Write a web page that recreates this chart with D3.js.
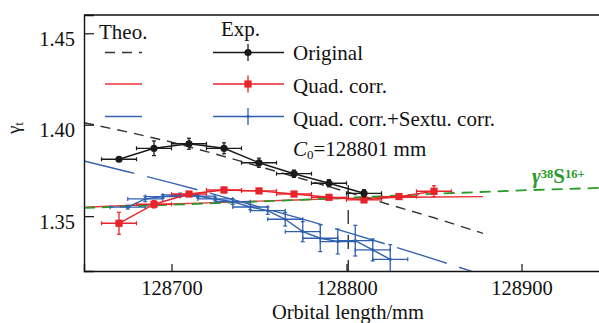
<!DOCTYPE html>
<html>
<head>
<meta charset="utf-8">
<script src="https://cdn.jsdelivr.net/npm/d3@7"></script>
<style>
body { margin: 0; background: #fff; }
svg { display: block; }
</style>
</head>
<body>
<script>
// measured points (orbital length in mm, gamma_t)
var origX = [128670, 128690, 128710, 128730, 128750, 128770, 128790, 128810];
var origY = [1.3811, 1.3871, 1.3896, 1.3871, 1.3792, 1.3732, 1.3680, 1.3625];
var origErr = [0.0012, 0.0040, 0.0030, 0.0030, 0.0025, 0.0020, 0.0020, 0.0020];

var quadX = [128670, 128690, 128710, 128730, 128750, 128770, 128790, 128810, 128830, 128850];
var quadY = [1.3461, 1.3565, 1.3621, 1.3643, 1.3638, 1.3621, 1.3603, 1.3589, 1.3607, 1.3636];
var quadErr = [0.0060, 0.0020, 0.0010, 0.0015, 0.0010, 0.0010, 0.0010, 0.0015, 0.0015, 0.0030];

var sextX = [128675, 128685, 128695, 128705, 128715, 128725, 128735, 128745,
             128755, 128765, 128775, 128785, 128795, 128805, 128815, 128825];
var sextY = [1.3549, 1.3594, 1.3607, 1.3616, 1.3610, 1.3594, 1.3579, 1.3550,
             1.3530, 1.3483, 1.3415, 1.3379, 1.3361, 1.3366, 1.3315, 1.3264];
var sextErr = [0.0010, 0.0015, 0.0010, 0.0010, 0.0010, 0.0010, 0.0015, 0.0015,
               0.0020, 0.0037, 0.0055, 0.0073, 0.0068, 0.0084, 0.0060, 0.0080];
var xErr = 10;

// theory curves
var theoX = [128650, 128675, 128700, 128725, 128750, 128775, 128800, 128825, 128850, 128878];
var theoOrig = [1.4011, 1.3960, 1.3905, 1.3840, 1.3772, 1.3703, 1.3633, 1.3562, 1.3491, 1.3406];
var theoQuad = [1.3549, 1.3558, 1.3566, 1.3574, 1.3582, 1.3590, 1.3597, 1.3602, 1.3605, 1.3607];
var theoSext = [1.3802, 1.3743, 1.3682, 1.3618, 1.3551, 1.3484, 1.3413, 1.3340, 1.3265, 1.3178];

var sulfurX = [128650, 128700, 128750, 128800, 128850, 128900, 128950];
var sulfurY = [1.3545, 1.3562, 1.3580, 1.3600, 1.3622, 1.3641, 1.3656];

var c0 = 128801;
var xTicks = [128700, 128800, 128900];
var yTicks = [1.35, 1.40, 1.45];

var svgWidth = 599;
var svgHeight = 323;
var serif = '"Liberation Serif", "Times New Roman", serif';

var svg = d3.select('body')
    .append('svg')
    .attr('width', svgWidth)
    .attr('height', svgHeight)
    .style('font-family', serif);

var x = d3.scaleLinear().domain([128650, 128950]).range([84, 609]);
var y = d3.scaleLinear().domain([1.32, 1.46]).range([271, 15]);

svg.append('clipPath').attr('id', 'plot')
    .append('rect').attr('x', 84).attr('y', 15).attr('width', 600).attr('height', 256);

var plot = svg.append('g').attr('clip-path', 'url(#plot)');

function zip(xs, ys) {
    return xs.map(function (d, i) { return [d, ys[i]]; });
}

var line = d3.line()
    .x(function (d) { return x(d[0]); })
    .y(function (d) { return y(d[1]); });

// theory lines
plot.append('path').datum(zip(theoX, theoQuad))
    .attr('d', line).attr('fill', 'none')
    .attr('stroke', '#e8343a').attr('stroke-width', 1.4);

plot.append('path').datum(zip(theoX, theoSext))
    .attr('d', line).attr('fill', 'none')
    .attr('stroke', '#3463b0').attr('stroke-width', 1.4)
    .attr('stroke-dasharray', '52,13');

plot.append('path').datum(zip(theoX, theoOrig))
    .attr('d', line).attr('fill', 'none')
    .attr('stroke', '#333').attr('stroke-width', 1.4)
    .attr('stroke-dasharray', '10,7');

plot.append('path').datum(zip(sulfurX, sulfurY))
    .attr('d', line).attr('fill', 'none')
    .attr('stroke', '#2a9a2a').attr('stroke-width', 1.8)
    .attr('stroke-dasharray', '11,7');

// C0 marker
plot.append('line')
    .attr('x1', x(c0)).attr('x2', x(c0))
    .attr('y1', y(1.32)).attr('y2', y(1.371))
    .attr('stroke', '#333').attr('stroke-width', 1.4)
    .attr('stroke-dasharray', '14,11')
    .attr('stroke-dashoffset', 3);

function drawSeries(xs, ys, errs, color, marker) {
    var g = plot.append('g');
    var pts = xs.map(function (d, i) { return {x: d, y: ys[i], e: errs[i]}; });

    g.append('path').datum(zip(xs, ys))
        .attr('d', line).attr('fill', 'none')
        .attr('stroke', color).attr('stroke-width', 1.4);

    var bars = g.selectAll('g.bar').data(pts).enter().append('g');
    bars.append('line')
        .attr('x1', function (d) { return x(d.x - xErr); })
        .attr('x2', function (d) { return x(d.x + xErr); })
        .attr('y1', function (d) { return y(d.y); })
        .attr('y2', function (d) { return y(d.y); })
        .attr('stroke', color).attr('stroke-width', 1.3);
    bars.append('line')
        .attr('x1', function (d) { return x(d.x); })
        .attr('x2', function (d) { return x(d.x); })
        .attr('y1', function (d) { return y(d.y - d.e); })
        .attr('y2', function (d) { return y(d.y + d.e); })
        .attr('stroke', color).attr('stroke-width', 1.3);
    // caps
    [-1, 1].forEach(function (s) {
        bars.append('line')
            .attr('x1', function (d) { return x(d.x + s * xErr); })
            .attr('x2', function (d) { return x(d.x + s * xErr); })
            .attr('y1', function (d) { return y(d.y) - 2; })
            .attr('y2', function (d) { return y(d.y) + 2; })
            .attr('stroke', color).attr('stroke-width', 1.2);
        bars.append('line')
            .attr('x1', function (d) { return x(d.x) - 2; })
            .attr('x2', function (d) { return x(d.x) + 2; })
            .attr('y1', function (d) { return y(d.y + s * d.e); })
            .attr('y2', function (d) { return y(d.y + s * d.e); })
            .attr('stroke', color).attr('stroke-width', 1.2);
    });

    if (marker === 'circle') {
        bars.append('circle')
            .attr('cx', function (d) { return x(d.x); })
            .attr('cy', function (d) { return y(d.y); })
            .attr('r', 3.6).attr('fill', color);
    } else if (marker === 'square') {
        bars.append('rect')
            .attr('x', function (d) { return x(d.x) - 3.6; })
            .attr('y', function (d) { return y(d.y) - 3.6; })
            .attr('width', 7.2).attr('height', 7.2).attr('fill', color);
    } else {
        bars.append('circle')
            .attr('cx', function (d) { return x(d.x); })
            .attr('cy', function (d) { return y(d.y); })
            .attr('r', 1.6).attr('fill', color);
    }
}

drawSeries(sextX, sextY, sextErr, '#2f5fae', 'dot');
drawSeries(quadX, quadY, quadErr, '#e8232a', 'square');
drawSeries(origX, origY, origErr, '#1a1a1a', 'circle');

// axes
var xAxis = svg.append('g').attr('transform', 'translate(0,271)');
xAxis.call(d3.axisBottom(x).tickValues(d3.range(128660, 128960, 20)).tickSize(-4).tickFormat(''));
xAxis.call(d3.axisBottom(x).tickValues(xTicks).tickSize(-7).tickPadding(9).tickFormat(d3.format('d')));

var yAxis = svg.append('g').attr('transform', 'translate(84,0)');
yAxis.call(d3.axisLeft(y).tickValues(d3.range(1.32, 1.461, 0.01)).tickSize(-7).tickFormat(''));
yAxis.call(d3.axisLeft(y).tickValues(yTicks).tickSize(-10).tickPadding(9).tickFormat(d3.format('.2f')));

svg.selectAll('.domain').attr('stroke', '#111').attr('stroke-width', 1.4);
svg.selectAll('.tick line').attr('stroke', '#111').attr('stroke-width', 1.2);
svg.selectAll('.tick text')
    .attr('fill', '#111')
    .style('font-family', serif)
    .style('font-size', '20.5px');
yAxis.selectAll('.tick text').attr('dy', '0.58em');

// frame top
svg.append('line')
    .attr('x1', 84).attr('x2', 609).attr('y1', 15).attr('y2', 15)
    .attr('stroke', '#111').attr('stroke-width', 1.4);

// axis titles
svg.append('text')
    .attr('x', 348).attr('y', 318.5)
    .attr('text-anchor', 'middle')
    .style('font-size', '20.5px')
    .attr('fill', '#111')
    .text('Orbital length/mm');

var yt = svg.append('text')
    .attr('transform', 'translate(20,128) rotate(-90)')
    .attr('text-anchor', 'middle')
    .style('font-size', '19px')
    .attr('fill', '#111');
yt.append('tspan').text('γ');
yt.append('tspan').attr('baseline-shift', '-25%').style('font-size', '12px').text('t');

// legend
var legend = svg.append('g').style('font-size', '21px').attr('fill', '#111');
legend.append('text').attr('x', 99).attr('y', 39).text('Theo.');
legend.append('text').attr('x', 221).attr('y', 36).text('Exp.');

var legendRows = [
    {y: 52.5, theo: '#333', dash: '10,7', color: '#1a1a1a', marker: 'circle', label: 'Original', ly: 60},
    {y: 84, theo: '#e8343a', dash: null, color: '#e8232a', marker: 'square', label: 'Quad. corr.', ly: 93},
    {y: 116.5, theo: '#3463b0', dash: null, color: '#2f5fae', marker: 'dot', label: 'Quad. corr.+Sextu. corr.', ly: 126}
];

legendRows.forEach(function (r) {
    legend.append('line')
        .attr('x1', 105).attr('x2', 142).attr('y1', r.y).attr('y2', r.y)
        .attr('stroke', r.theo).attr('stroke-width', 1.6)
        .attr('stroke-dasharray', r.dash);
    legend.append('line')
        .attr('x1', 213).attr('x2', 284).attr('y1', r.y).attr('y2', r.y)
        .attr('stroke', r.color).attr('stroke-width', 1.4);
    legend.append('line')
        .attr('x1', 248).attr('x2', 248).attr('y1', r.y - 8.5).attr('y2', r.y + 8.5)
        .attr('stroke', r.color).attr('stroke-width', 1.3);
    if (r.marker === 'circle') {
        legend.append('circle').attr('cx', 248).attr('cy', r.y).attr('r', 3.6).attr('fill', r.color);
    } else if (r.marker === 'square') {
        legend.append('rect').attr('x', 244.4).attr('y', r.y - 3.6)
            .attr('width', 7.2).attr('height', 7.2).attr('fill', r.color);
    } else {
        legend.append('circle').attr('cx', 248).attr('cy', r.y).attr('r', 1.6).attr('fill', r.color);
    }
    legend.append('text').attr('x', 293).attr('y', r.ly).text(r.label);
});

var c0Text = legend.append('text').attr('x', 293).attr('y', 156);
c0Text.append('tspan').style('font-style', 'italic').text('C');
c0Text.append('tspan').attr('baseline-shift', '-25%').style('font-size', '13px').text('0');
c0Text.append('tspan').text('=' + c0 + ' mm');

// sulfur label
var sLabel = svg.append('text')
    .attr('x', 532).attr('y', 183)
    .attr('fill', '#2a9a2a')
    .style('font-weight', 'bold')
    .style('font-size', '21px');
sLabel.append('tspan').style('font-style', 'italic').text('γ');
sLabel.append('tspan').attr('baseline-shift', '40%').style('font-size', '12.5px').text('38');
sLabel.append('tspan').text('S');
sLabel.append('tspan').attr('baseline-shift', '40%').style('font-size', '12.5px').text('16+');
</script>
</body>
</html>
